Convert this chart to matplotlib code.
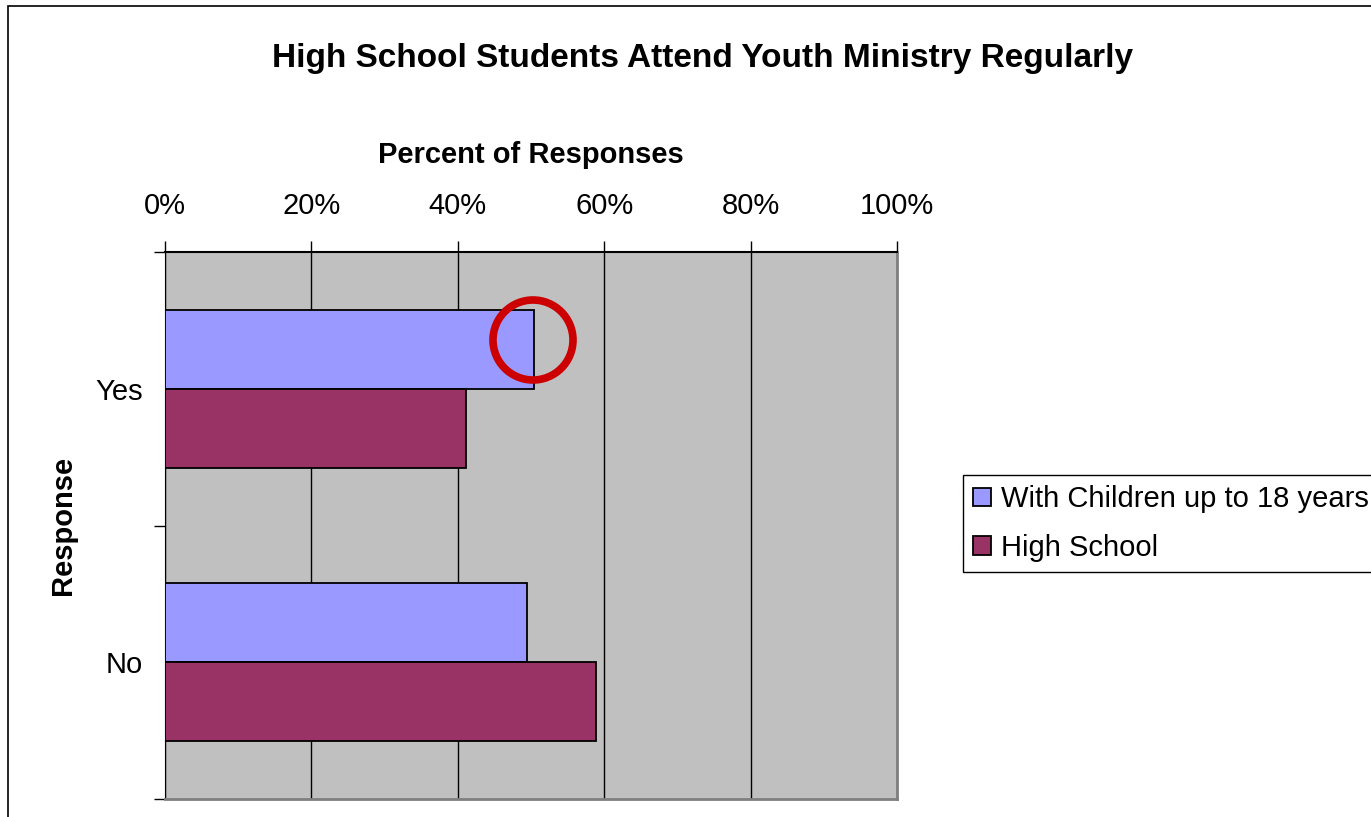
import matplotlib
matplotlib.use("Agg")
import matplotlib.pyplot as plt
from matplotlib.patches import Rectangle, Ellipse
import numpy as np

plt.rcParams['font.family'] = ['Liberation Sans', 'DejaVu Sans']

# data
categories = ["No", "Yes"]
series_names = ["With Children up to 18 years", "High School"]
with_children = [49.5, 50.4]
high_school = [58.9, 41.1]
colors = ["#9999FF", "#993366"]

W, H = 1371, 817
fig = plt.figure(figsize=(W / 100, H / 100), dpi=100)

# outer chart border (runs off the right and bottom of the picture)
fig.patches.append(Rectangle((8 / W, -0.05), 1.2, (H - 6) / H + 0.05,
                             transform=fig.transFigure, fill=False,
                             edgecolor="black", lw=1.2, zorder=0))

ax = fig.add_axes([165 / W, 1 - 799 / H, (897 - 165) / W, (799 - 252) / H])
ax.set_facecolor("#C0C0C0")

y = np.arange(len(categories))
h = 0.289
ax.barh(y + h / 2, with_children, height=h, color=colors[0],
        edgecolor="black", lw=1.3, label=series_names[0], zorder=3)
ax.barh(y - h / 2, high_school, height=h, color=colors[1],
        edgecolor="black", lw=1.3, label=series_names[1], zorder=3)

ax.set_xlim(0, 100)
ax.set_ylim(-0.5, 1.5)
ax.xaxis.tick_top()
ax.xaxis.set_label_position("top")
ax.set_xticks(range(0, 101, 20))
ax.set_xticklabels([f"{v}%" for v in range(0, 101, 20)], fontsize=21)
ax.tick_params(axis="x", direction="out", length=8, width=1, pad=15)
ax.grid(axis="x", color="black", lw=1, zorder=1)

ax.set_yticks(y)
ax.set_yticklabels(categories, fontsize=21)
ax.set_yticks([-0.5, 0.5, 1.5], minor=True)
ax.tick_params(axis="y", which="major", length=0, pad=16)
ax.tick_params(axis="y", which="minor", direction="out", length=8, width=1)

ax.set_xlabel("Percent of Responses", fontsize=21, fontweight="bold", labelpad=21)
ax.set_ylabel("Response", fontsize=21, fontweight="bold", labelpad=13)

ax.spines["left"].set_color("black")
ax.spines["top"].set_color("black")
ax.spines["top"].set_linewidth(1.5)
for s in ("right", "bottom"):
    ax.spines[s].set_color("#808080")
    ax.spines[s].set_linewidth(2)

fig.text(703 / W, 1 - 59 / H, "High School Students Attend Youth Ministry Regularly",
         ha="center", va="center", fontsize=24, fontweight="bold")

leg = fig.legend(loc="upper left", bbox_to_anchor=(963 / W, 1 - 475 / H),
                 fontsize=21, frameon=True, fancybox=False, edgecolor="black",
                 framealpha=1, handlelength=0.6, handleheight=0.6,
                 handletextpad=0.35, borderpad=0.35, labelspacing=0.7,
                 borderaxespad=0)
leg.get_frame().set_linewidth(1)

# red circle drawn over the chart
fig.patches.append(Ellipse((533 / W, 1 - 340 / H), 80 / W, 80 / H,
                           transform=fig.transFigure, fill=False,
                           edgecolor="#CC0000", lw=5.5, zorder=10))

fig.savefig("out.png", dpi=100)
